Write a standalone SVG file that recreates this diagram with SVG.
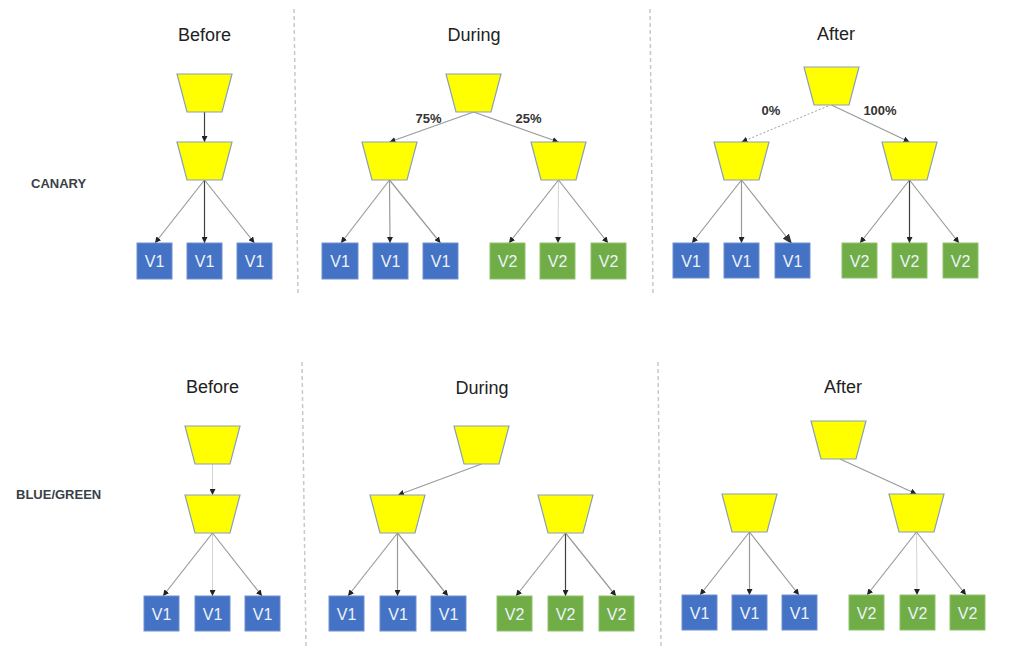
<svg xmlns="http://www.w3.org/2000/svg" xmlns:xlink="http://www.w3.org/1999/xlink" width="1016" height="672" viewBox="0 0 1016 672">
<style>
.bg{fill:#ffffff}
.div{stroke:#c8c8c8;stroke-width:1.5;stroke-dasharray:4 3;fill:none}
.head{font-family:"Liberation Sans",Arial,sans-serif;font-size:18px;fill:#222;text-anchor:middle}
.side{font-family:"Liberation Sans",Arial,sans-serif;font-size:13px;font-weight:bold;fill:#3b3f47}
.pct{font-family:"Liberation Sans",Arial,sans-serif;font-size:13px;font-weight:bold;fill:#333;text-anchor:middle}
.tz{fill:#ffff00;stroke:#8aa0bd;stroke-width:1.2}
.v1{fill:#4472c4;stroke:#6f8fcf;stroke-width:1}
.v2{fill:#70ad47;stroke:#8fc26d;stroke-width:1}
.bt{font-family:"Liberation Sans",Arial,sans-serif;font-size:16px;fill:#eef2fa;text-anchor:middle}
.c{stroke:#9a9a9a;stroke-width:1.2;fill:none;marker-end:url(#ah)}
.cd{stroke:#404040;stroke-width:1.2;fill:none;marker-end:url(#ah)}
.cl{stroke:#d4d4d4;stroke-width:1;fill:none;marker-end:url(#ah)}
.cdash{stroke:#a0a0a0;stroke-width:1;stroke-dasharray:2 2;fill:none;marker-end:url(#ah)}
.cbig{stroke:#9a9a9a;stroke-width:1.2;fill:none;marker-end:url(#ahb)}
</style>
<defs>
<marker id="ah" viewBox="0 0 6 6" refX="6" refY="3" markerWidth="6" markerHeight="6" markerUnits="userSpaceOnUse" orient="auto"><path d="M0,0 L6,3 L0,6 z" fill="#222"/></marker>
<marker id="ahb" viewBox="0 0 10 8" refX="10" refY="4" markerWidth="10" markerHeight="8" markerUnits="userSpaceOnUse" orient="auto"><path d="M0,0 L10,4 L0,8 z" fill="#333"/></marker>
<path id="trap" class="tz" d="M0,0 L55,0 L45,38 L10,38 Z"/>
</defs>
<rect class="bg" x="0" y="0" width="1016" height="672"/>

<g id="dividers">
<line class="div" x1="294" y1="9" x2="298" y2="294"/>
<line class="div" x1="650" y1="9" x2="653" y2="294"/>
<line class="div" x1="302" y1="362" x2="306" y2="647"/>
<line class="div" x1="658" y1="362" x2="661" y2="647"/>
</g>

<g id="headings">
<text class="head" x="204.5" y="41">Before</text>
<text class="head" x="474" y="41">During</text>
<text class="head" x="836" y="40">After</text>
<text class="head" x="212.5" y="393">Before</text>
<text class="head" x="482" y="394">During</text>
<text class="head" x="843" y="393">After</text>
<text class="side" x="31" y="188">CANARY</text>
<text class="side" x="16" y="499">BLUE/GREEN</text>
</g>

<g id="connectors">
<line class="cd" x1="204.5" y1="112" x2="204.5" y2="142"/>
<line class="c" x1="204.5" y1="180" x2="155" y2="243"/>
<line class="cd" x1="204.5" y1="180" x2="204.5" y2="243"/>
<line class="c" x1="204.5" y1="180" x2="254.5" y2="243"/>
<line class="c" x1="473.5" y1="112" x2="389.5" y2="142"/>
<line class="c" x1="473.5" y1="112" x2="558.5" y2="142"/>
<line class="c" x1="389.5" y1="180" x2="341" y2="243"/>
<line class="c" x1="389.5" y1="180" x2="390" y2="243"/>
<line class="c" x1="389.5" y1="180" x2="440.5" y2="243"/>
<line class="c" x1="558.5" y1="180" x2="509" y2="243"/>
<line class="cl" x1="558.5" y1="180" x2="558" y2="243"/>
<line class="c" x1="558.5" y1="180" x2="608" y2="243"/>
<line class="cdash" x1="828" y1="106" x2="741.5" y2="142"/>
<line class="c" x1="831.5" y1="105" x2="909.5" y2="142"/>
<line class="c" x1="741.5" y1="180" x2="692" y2="243"/>
<line class="c" x1="741.5" y1="180" x2="741.5" y2="243"/>
<line class="cbig" x1="741.5" y1="180" x2="792" y2="244"/>
<line class="c" x1="909.5" y1="180" x2="860" y2="243"/>
<line class="cd" x1="909.5" y1="180" x2="909.5" y2="243"/>
<line class="c" x1="909.5" y1="180" x2="959" y2="243"/>
<line class="cl" x1="212.5" y1="464" x2="212.5" y2="495"/>
<line class="c" x1="212.5" y1="533" x2="163" y2="596"/>
<line class="cl" x1="212.5" y1="533" x2="212.5" y2="596"/>
<line class="c" x1="212.5" y1="533" x2="262" y2="596"/>
<line class="c" x1="481.5" y1="464" x2="398" y2="495"/>
<line class="c" x1="397.5" y1="533" x2="348" y2="596"/>
<line class="c" x1="397.5" y1="533" x2="397.5" y2="596"/>
<line class="c" x1="397.5" y1="533" x2="448" y2="596"/>
<line class="c" x1="565.5" y1="533" x2="516" y2="596"/>
<line class="cd" x1="565.5" y1="533" x2="565.5" y2="596"/>
<line class="c" x1="565.5" y1="533" x2="616" y2="596"/>
<line class="c" x1="840" y1="459" x2="916.5" y2="494"/>
<line class="c" x1="749.5" y1="532" x2="700" y2="595"/>
<line class="c" x1="749.5" y1="532" x2="749.5" y2="595"/>
<line class="c" x1="749.5" y1="532" x2="799" y2="595"/>
<line class="c" x1="916.5" y1="532" x2="867" y2="595"/>
<line class="cl" x1="916.5" y1="532" x2="917" y2="595"/>
<line class="c" x1="916.5" y1="532" x2="966" y2="595"/>
</g>

<g id="labels">
<text class="pct" x="428.5" y="123">75%</text>
<text class="pct" x="528.5" y="123">25%</text>
<text class="pct" x="771" y="115">0%</text>
<text class="pct" x="880" y="115">100%</text>
</g>

<g id="cb-lb1"><use xlink:href="#trap" x="177" y="74"/></g>
<g id="cb-lb2"><use xlink:href="#trap" x="177" y="142"/></g>
<g id="cb-p1"><rect class="v1" x="137" y="243" width="35" height="36"/><text class="bt" x="154.5" y="267">V1</text></g>
<g id="cb-p2"><rect class="v1" x="187" y="243" width="35" height="36"/><text class="bt" x="204.5" y="267">V1</text></g>
<g id="cb-p3"><rect class="v1" x="237" y="243" width="35" height="36"/><text class="bt" x="254.5" y="267">V1</text></g>

<g id="cd-lb1"><use xlink:href="#trap" x="446" y="74"/></g>
<g id="cd-lb2"><use xlink:href="#trap" x="362" y="142"/></g>
<g id="cd-lb3"><use xlink:href="#trap" x="531" y="142"/></g>
<g id="cd-p1"><rect class="v1" x="322" y="243" width="36" height="36"/><text class="bt" x="340" y="267">V1</text></g>
<g id="cd-p2"><rect class="v1" x="373" y="243" width="35" height="36"/><text class="bt" x="390.5" y="267">V1</text></g>
<g id="cd-p3"><rect class="v1" x="423" y="243" width="35" height="36"/><text class="bt" x="440.5" y="267">V1</text></g>
<g id="cd-p4"><rect class="v2" x="490" y="243" width="35" height="36"/><text class="bt" x="507.5" y="267">V2</text></g>
<g id="cd-p5"><rect class="v2" x="540" y="243" width="35" height="36"/><text class="bt" x="557.5" y="267">V2</text></g>
<g id="cd-p6"><rect class="v2" x="591" y="243" width="35" height="36"/><text class="bt" x="608.5" y="267">V2</text></g>

<g id="ca-lb1"><use xlink:href="#trap" x="804" y="67"/></g>
<g id="ca-lb2"><use xlink:href="#trap" x="714" y="142"/></g>
<g id="ca-lb3"><use xlink:href="#trap" x="882" y="142"/></g>
<g id="ca-p1"><rect class="v1" x="673" y="243" width="36" height="35"/><text class="bt" x="691" y="267">V1</text></g>
<g id="ca-p2"><rect class="v1" x="724" y="243" width="35" height="35"/><text class="bt" x="741.5" y="267">V1</text></g>
<g id="ca-p3"><rect class="v1" x="775" y="243" width="35" height="35"/><text class="bt" x="792.5" y="267">V1</text></g>
<g id="ca-p4"><rect class="v2" x="842" y="243" width="35" height="35"/><text class="bt" x="859.5" y="267">V2</text></g>
<g id="ca-p5"><rect class="v2" x="892" y="243" width="35" height="35"/><text class="bt" x="909.5" y="267">V2</text></g>
<g id="ca-p6"><rect class="v2" x="943" y="243" width="35" height="35"/><text class="bt" x="960.5" y="267">V2</text></g>

<g id="bb-lb1"><use xlink:href="#trap" x="185" y="426"/></g>
<g id="bb-lb2"><use xlink:href="#trap" x="185" y="495"/></g>
<g id="bb-p1"><rect class="v1" x="144" y="596" width="35" height="35"/><text class="bt" x="161.5" y="620">V1</text></g>
<g id="bb-p2"><rect class="v1" x="195" y="596" width="35" height="35"/><text class="bt" x="212.5" y="620">V1</text></g>
<g id="bb-p3"><rect class="v1" x="245" y="596" width="35" height="35"/><text class="bt" x="262.5" y="620">V1</text></g>

<g id="bd-lb1"><use xlink:href="#trap" x="454" y="426"/></g>
<g id="bd-lb2"><use xlink:href="#trap" x="370" y="495"/></g>
<g id="bd-lb3"><use xlink:href="#trap" x="538" y="495"/></g>
<g id="bd-p1"><rect class="v1" x="329" y="596" width="35" height="35"/><text class="bt" x="346.5" y="620">V1</text></g>
<g id="bd-p2"><rect class="v1" x="380" y="596" width="36" height="35"/><text class="bt" x="398" y="620">V1</text></g>
<g id="bd-p3"><rect class="v1" x="431" y="596" width="35" height="35"/><text class="bt" x="448.5" y="620">V1</text></g>
<g id="bd-p4"><rect class="v2" x="497" y="596" width="35" height="35"/><text class="bt" x="514.5" y="620">V2</text></g>
<g id="bd-p5"><rect class="v2" x="548" y="596" width="35" height="35"/><text class="bt" x="565.5" y="620">V2</text></g>
<g id="bd-p6"><rect class="v2" x="599" y="596" width="35" height="35"/><text class="bt" x="616.5" y="620">V2</text></g>

<g id="ba-lb1"><use xlink:href="#trap" x="811" y="421"/></g>
<g id="ba-lb2"><use xlink:href="#trap" x="722" y="494"/></g>
<g id="ba-lb3"><use xlink:href="#trap" x="889" y="494"/></g>
<g id="ba-p1"><rect class="v1" x="682" y="595" width="35" height="35"/><text class="bt" x="699.5" y="619">V1</text></g>
<g id="ba-p2"><rect class="v1" x="732" y="595" width="35" height="35"/><text class="bt" x="749.5" y="619">V1</text></g>
<g id="ba-p3"><rect class="v1" x="782" y="595" width="35" height="35"/><text class="bt" x="799.5" y="619">V1</text></g>
<g id="ba-p4"><rect class="v2" x="849" y="595" width="35" height="35"/><text class="bt" x="866.5" y="619">V2</text></g>
<g id="ba-p5"><rect class="v2" x="900" y="595" width="35" height="35"/><text class="bt" x="917.5" y="619">V2</text></g>
<g id="ba-p6"><rect class="v2" x="950" y="595" width="35" height="35"/><text class="bt" x="967.5" y="619">V2</text></g>
</svg>
